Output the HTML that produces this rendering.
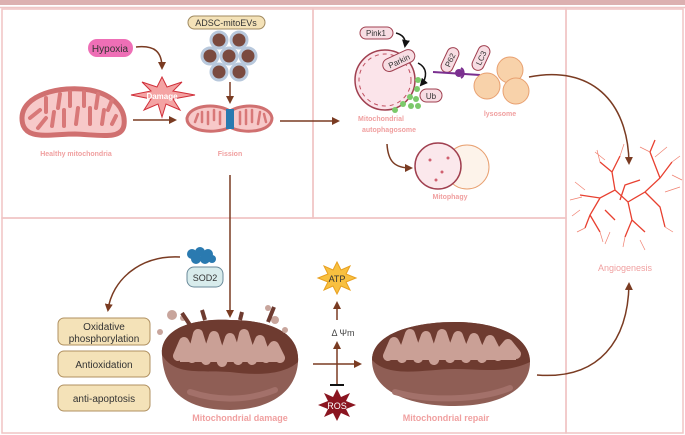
<!DOCTYPE html>
<html><head><meta charset="utf-8"><style>
html,body{margin:0;padding:0;background:#fff}
svg{display:block;font-family:"Liberation Sans",sans-serif}
</style></head><body>
<svg width="685" height="435" viewBox="0 0 685 435" xmlns="http://www.w3.org/2000/svg">
<defs>
<marker id="a" markerWidth="8" markerHeight="8" refX="6" refY="4" orient="auto" markerUnits="userSpaceOnUse"><path d="M0,0 L8,4 L0,8z" fill="#7a3b22"/></marker>
<marker id="k" markerWidth="8" markerHeight="8" refX="6" refY="4" orient="auto" markerUnits="userSpaceOnUse"><path d="M0,0 L8,4 L0,8z" fill="#111"/></marker>
</defs>
<rect x="0" y="0" width="685" height="5" fill="#dcb0b0"/>
<line x1="0" y1="7.5" x2="685" y2="7.5" stroke="#eec6c6" stroke-width="1.5"/>
<g fill="none" stroke="#f0c4c4" stroke-width="1.5">
<rect x="2" y="9" width="311" height="209"/>
<rect x="313" y="9" width="253" height="209"/>
<rect x="566" y="9" width="117" height="424"/>
<rect x="2" y="218" width="564" height="215"/>
</g>
<!-- Hypoxia -->
<rect x="88" y="39" width="45" height="18" rx="9" fill="#ee6fb6"/>
<text x="110" y="52" font-size="10" text-anchor="middle" fill="#333">Hypoxia</text>
<path d="M136,47 C155,45 162,52 162,68" fill="none" stroke="#7a3b22" stroke-width="1.5" marker-end="url(#a)"/>
<polygon points="162,77 167,87 182,82 173,91 195,95 173,99 180,110 166,104 162,117 158,104 144,110 151,99 131,95 151,91 142,82 157,87" fill="#f4a3a3" stroke="#d0303a"/>
<text x="162" y="99" font-size="8" text-anchor="middle" fill="#fff" font-weight="bold">Damage</text>
<!-- healthy mito -->
<path d="M22,118 C22,95 60,85 90,90 C115,95 126,110 124,125 C122,140 100,135 75,134 C50,134 22,142 22,118z" fill="#f7c9c9" stroke="#d07070" stroke-width="5"/>
<g stroke="#d87878" stroke-width="4" fill="none" stroke-linecap="round"><path d="M30,118 l10,-8 M38,128 l8,-10 M46,112 l0,-14 M52,126 l2,-14 M58,108 l2,-14 M64,126 l0,-16 M70,106 l0,-14 M76,124 l2,-16 M84,106 l0,-14 M90,124 l0,-16 M96,108 l2,-14 M102,124 l2,-14 M108,110 l4,-10 M112,124 l4,-8"/></g>
<text x="76" y="156" font-size="7" text-anchor="middle" fill="#f0a0a0" font-weight="bold">Healthy mitochondria</text>
<line x1="133" y1="120" x2="175" y2="120" stroke="#7a3b22" stroke-width="1.5" marker-end="url(#a)"/>
<!-- ADSC -->
<rect x="188" y="16" width="77" height="13" rx="6.5" fill="#f4e2b8" stroke="#a08a60"/>
<text x="226" y="26" font-size="9" text-anchor="middle" fill="#333">ADSC-mitoEVs</text>
<g fill="#7a4a3f" stroke="#b8c8dc" stroke-width="3">
<circle cx="219" cy="40" r="8"/><circle cx="239" cy="40" r="8"/>
<circle cx="210" cy="56" r="8"/><circle cx="229" cy="56" r="8"/><circle cx="248" cy="56" r="8"/>
<circle cx="219" cy="72" r="8"/><circle cx="239" cy="72" r="8"/></g>
<line x1="230" y1="82" x2="230" y2="102" stroke="#7a3b22" stroke-width="1.5" marker-end="url(#a)"/>
<!-- fission -->
<path d="M228,110 C215,103 190,105 187,118 C186,132 215,134 228,128z" fill="#f7c9c9" stroke="#d07070" stroke-width="3"/>
<path d="M232,110 C245,103 270,105 272,118 C272,132 245,134 232,128z" fill="#f7c9c9" stroke="#d07070" stroke-width="3"/>
<g stroke="#d87878" stroke-width="2.5" stroke-linecap="round"><path d="M195,122 l3,-8 M202,112 l0,10 M208,124 l0,-12 M214,110 l0,10 M220,124 l0,-12 M240,112 l0,12 M246,124 l0,-14 M252,110 l0,12 M258,124 l2,-12 M264,114 l2,8"/></g>
<rect x="226" y="109" width="8" height="20" fill="#2a7ab0"/>
<text x="230" y="156" font-size="7" text-anchor="middle" fill="#f0a0a0" font-weight="bold">Fission</text>
<line x1="280" y1="121" x2="338" y2="121" stroke="#7a3b22" stroke-width="1.5" marker-end="url(#a)"/>
<line x1="230" y1="175" x2="230" y2="316" stroke="#7a3b22" stroke-width="1.5" marker-end="url(#a)"/>
<!-- autophagosome -->
<circle cx="385" cy="80" r="30" fill="#fbe4ea" stroke="#a04050" stroke-width="1.5"/>
<circle cx="385" cy="80" r="26" fill="none" stroke="#c05060" stroke-dasharray="4 4"/>
<rect x="360" y="27" width="33" height="12" rx="6" fill="#f7dde3" stroke="#a04050"/>
<text x="376" y="36" font-size="8" text-anchor="middle" fill="#333">Pink1</text>
<path d="M396,33 C404,35 406,40 405,46" fill="none" stroke="#111" stroke-width="1.5" marker-end="url(#k)"/>
<g transform="rotate(-25 399 61)"><rect x="382" y="54" width="34" height="13" rx="6.5" fill="#f7dde3" stroke="#a04050"/><text x="399" y="64" font-size="8" text-anchor="middle" fill="#333">Parkin</text></g>
<path d="M418,63 C428,68 427,78 421,85" fill="none" stroke="#111" stroke-width="1.5" marker-end="url(#k)"/>
<rect x="420" y="89" width="22" height="13" rx="6.5" fill="#f7dde3" stroke="#a04050"/>
<text x="431" y="99" font-size="8" text-anchor="middle" fill="#333">Ub</text>
<g fill="#7cc96a"><circle cx="418" cy="80" r="3"/><circle cx="417" cy="89" r="3"/><circle cx="410" cy="97" r="3"/><circle cx="416" cy="99" r="3"/><circle cx="403" cy="104" r="3"/><circle cx="411" cy="106" r="3"/><circle cx="418" cy="106" r="3"/><circle cx="395" cy="110" r="3"/></g>
<g transform="rotate(-65 450 60)"><rect x="437" y="54" width="26" height="12" rx="6" fill="#f7dde3" stroke="#a04050"/><text x="450" y="63" font-size="8" text-anchor="middle" fill="#333">P62</text></g>
<g transform="rotate(-65 481 58)"><rect x="468" y="52" width="26" height="12" rx="6" fill="#f7dde3" stroke="#a04050"/><text x="481" y="61" font-size="8" text-anchor="middle" fill="#333">LC3</text></g>
<line x1="433" y1="72" x2="480" y2="75" stroke="#7a2f8f" stroke-width="2"/>
<circle cx="459" cy="73" r="4" fill="#7a2f8f"/>
<path d="M461,68 a6,6 0 0 1 0,10" fill="none" stroke="#7a2f8f" stroke-width="2"/>
<g fill="#f8d2aa" stroke="#e8a070"><circle cx="510" cy="70" r="13"/><circle cx="487" cy="86" r="13"/><circle cx="516" cy="91" r="13"/></g>
<text x="381" y="121" font-size="7" text-anchor="middle" fill="#f0a0a0" font-weight="bold">Mitochondrial</text>
<text x="389" y="132" font-size="7" text-anchor="middle" fill="#f0a0a0" font-weight="bold">autophagosome</text>
<text x="500" y="116" font-size="7" text-anchor="middle" fill="#f0a0a0" font-weight="bold">lysosome</text>
<path d="M387,144 C388,162 395,168 411,168" fill="none" stroke="#7a3b22" stroke-width="1.5" marker-end="url(#a)"/>
<circle cx="467" cy="167" r="22" fill="#fdf3ea" stroke="#e8a070"/>
<circle cx="438" cy="166" r="23" fill="#fbe8ec" stroke="#a04050" stroke-width="1.5"/>
<g fill="#d06070"><circle cx="430" cy="160" r="1.5"/><circle cx="442" cy="172" r="1.5"/><circle cx="436" cy="180" r="1.5"/><circle cx="448" cy="158" r="1.5"/></g>
<text x="450" y="199" font-size="7" text-anchor="middle" fill="#f0a0a0" font-weight="bold">Mitophagy</text>
<path d="M529,77 C590,65 628,100 629,163" fill="none" stroke="#7a3b22" stroke-width="1.5" marker-end="url(#a)"/>
<!-- vessel -->
<g stroke="#e84030" fill="none" stroke-width="1.3">
<path d="M580,195 L600,198 L615,190 L628,202 L645,192 L660,178 L672,162 M615,190 L612,172 L600,162 M628,202 L632,220 L625,237 M645,192 L660,207 L665,227 M600,198 L590,215 L585,228 M632,220 L645,232 M660,178 L650,152 L655,140 M612,172 L620,156 M590,215 L600,232 M620,200 L625,185 L640,180 M605,210 L615,220"/>
</g>
<g stroke="#f08070" fill="none" stroke-width="0.7">
<path d="M575,182 l10,8 M570,200 l12,-3 M665,192 l15,-5 M672,162 l8,-6 M640,240 l5,10 M610,232 l-5,12 M655,157 l12,-10 M605,160 l-10,-8 M600,162 l-3,-12 M620,156 l4,-12 M650,152 l-10,-5 M665,227 l8,5 M585,228 l-8,4 M625,237 l-2,10 M600,232 l3,10 M672,175 l10,5 M580,210 l-8,6"/>
</g>
<text x="625" y="271" font-size="9" text-anchor="middle" fill="#f0a0a0">Angiogenesis</text>
<path d="M537,375 C600,380 628,340 629,284" fill="none" stroke="#7a3b22" stroke-width="1.5" marker-end="url(#a)"/>
<!-- SOD2 -->
<g fill="#2a7ab0"><circle cx="192" cy="254" r="5"/><circle cx="200" cy="252" r="5"/><circle cx="208" cy="254" r="5"/><circle cx="196" cy="259" r="5"/><circle cx="205" cy="259" r="5"/><circle cx="212" cy="259" r="4"/></g>
<rect x="187" y="267" width="36" height="20" rx="7" fill="#d8ecec" stroke="#6a8a9a"/>
<text x="205" y="281" font-size="9" text-anchor="middle" fill="#333">SOD2</text>
<path d="M180,257 C140,255 112,280 108,310" fill="none" stroke="#7a3b22" stroke-width="1.5" marker-end="url(#a)"/>
<g fill="#f4e2b8" stroke="#b09060"><rect x="58" y="318" width="92" height="27" rx="6"/><rect x="58" y="351" width="92" height="26" rx="6"/><rect x="58" y="385" width="92" height="26" rx="6"/></g>
<g font-size="10" text-anchor="middle" fill="#333"><text x="104" y="330">Oxidative</text><text x="104" y="342">phosphorylation</text><text x="104" y="368">Antioxidation</text><text x="104" y="402">anti-apoptosis</text></g>
<!-- damaged mito -->
<path d="M162,355 C160,330 190,318 230,320 C275,320 300,335 298,362 C296,395 265,410 230,410 C190,410 164,395 162,355z" fill="#8f5e55"/>
<path d="M162,355 C160,330 190,318 230,320 C275,320 300,335 298,362 C285,374 260,376 230,372 C200,370 175,376 162,355z" fill="#6e3b30"/>
<g fill="none" stroke="#caa096" stroke-width="10" stroke-linecap="round" stroke-linejoin="round">
<path d="M178,356 L184,342 L192,358 L198,334 L206,360 L214,336 L222,362 L230,338 L238,360 L244,334 L252,360 L260,340 L266,358 L274,346 L280,358"/></g>
<rect x="180" y="350" width="98" height="12" fill="#caa096"/>
<g fill="#c8a59c"><circle cx="172" cy="315" r="5"/><circle cx="183" cy="318" r="3"/><circle cx="275" cy="320" r="4"/><circle cx="285" cy="330" r="3"/><circle cx="160" cy="332" r="3"/><circle cx="268" cy="308" r="3"/></g>
<path d="M190,325 l-8,-12 M268,322 l6,-15 M205,320 l-3,-10 M240,320 l2,-8" stroke="#6e3b30" stroke-width="4"/>
<path d="M190,392 C220,402 250,400 275,390" stroke="#a3716a" stroke-width="6" fill="none" stroke-linecap="round"/>
<text x="240" y="421" font-size="9" text-anchor="middle" fill="#f0a0a0" font-weight="bold">Mitochondrial damage</text>
<!-- ATP/ROS -->
<polygon points="337,262 341,270 350,266 346,274 356,278 346,282 350,290 341,286 337,294 333,286 324,290 328,282 318,278 328,274 324,266 333,270" fill="#f8c040" stroke="#e8a020"/>
<text x="337" y="282" font-size="9" text-anchor="middle" fill="#333">ATP</text>
<polygon points="337,389 341,397 350,393 346,401 356,405 346,409 350,417 341,413 337,421 333,413 324,417 328,409 318,405 328,401 324,393 333,397" fill="#8a1520"/>
<text x="337" y="409" font-size="9" text-anchor="middle" fill="#fff">ROS</text>
<line x1="337" y1="320" x2="337" y2="303" stroke="#7a3b22" stroke-width="1.5" marker-end="url(#a)"/>
<text x="343" y="336" font-size="9" text-anchor="middle" fill="#444">Δ Ψm</text>
<line x1="337" y1="352" x2="337" y2="343" stroke="#7a3b22" stroke-width="1.5" marker-end="url(#a)"/>
<line x1="337" y1="352" x2="337" y2="384" stroke="#7a3b22" stroke-width="1.5"/>
<line x1="330" y1="385" x2="344" y2="385" stroke="#111" stroke-width="2"/>
<line x1="313" y1="364" x2="360" y2="364" stroke="#7a3b22" stroke-width="1.5" marker-end="url(#a)"/>
<!-- repair mito -->
<path d="M372,360 C372,335 410,322 455,322 C500,322 530,338 530,362 C530,392 495,406 455,406 C410,406 372,392 372,360z" fill="#8f5e55"/>
<path d="M372,360 C372,335 410,322 455,322 C500,322 530,338 530,362 C505,374 480,369 455,369 C425,369 390,379 372,360z" fill="#6e3b30"/>
<g fill="none" stroke="#caa096" stroke-width="10" stroke-linecap="round" stroke-linejoin="round">
<path d="M388,356 L394,342 L402,358 L410,334 L418,358 L426,336 L434,360 L442,334 L450,358 L458,336 L466,358 L474,338 L482,358 L490,340 L498,356 L508,344 L516,354"/></g>
<rect x="390" y="350" width="126" height="10" fill="#caa096"/>
<path d="M395,392 C430,402 480,400 510,388" stroke="#a3716a" stroke-width="6" fill="none" stroke-linecap="round"/>
<text x="446" y="421" font-size="9" text-anchor="middle" fill="#f0a0a0" font-weight="bold">Mitochondrial repair</text>
</svg>
</body></html>
